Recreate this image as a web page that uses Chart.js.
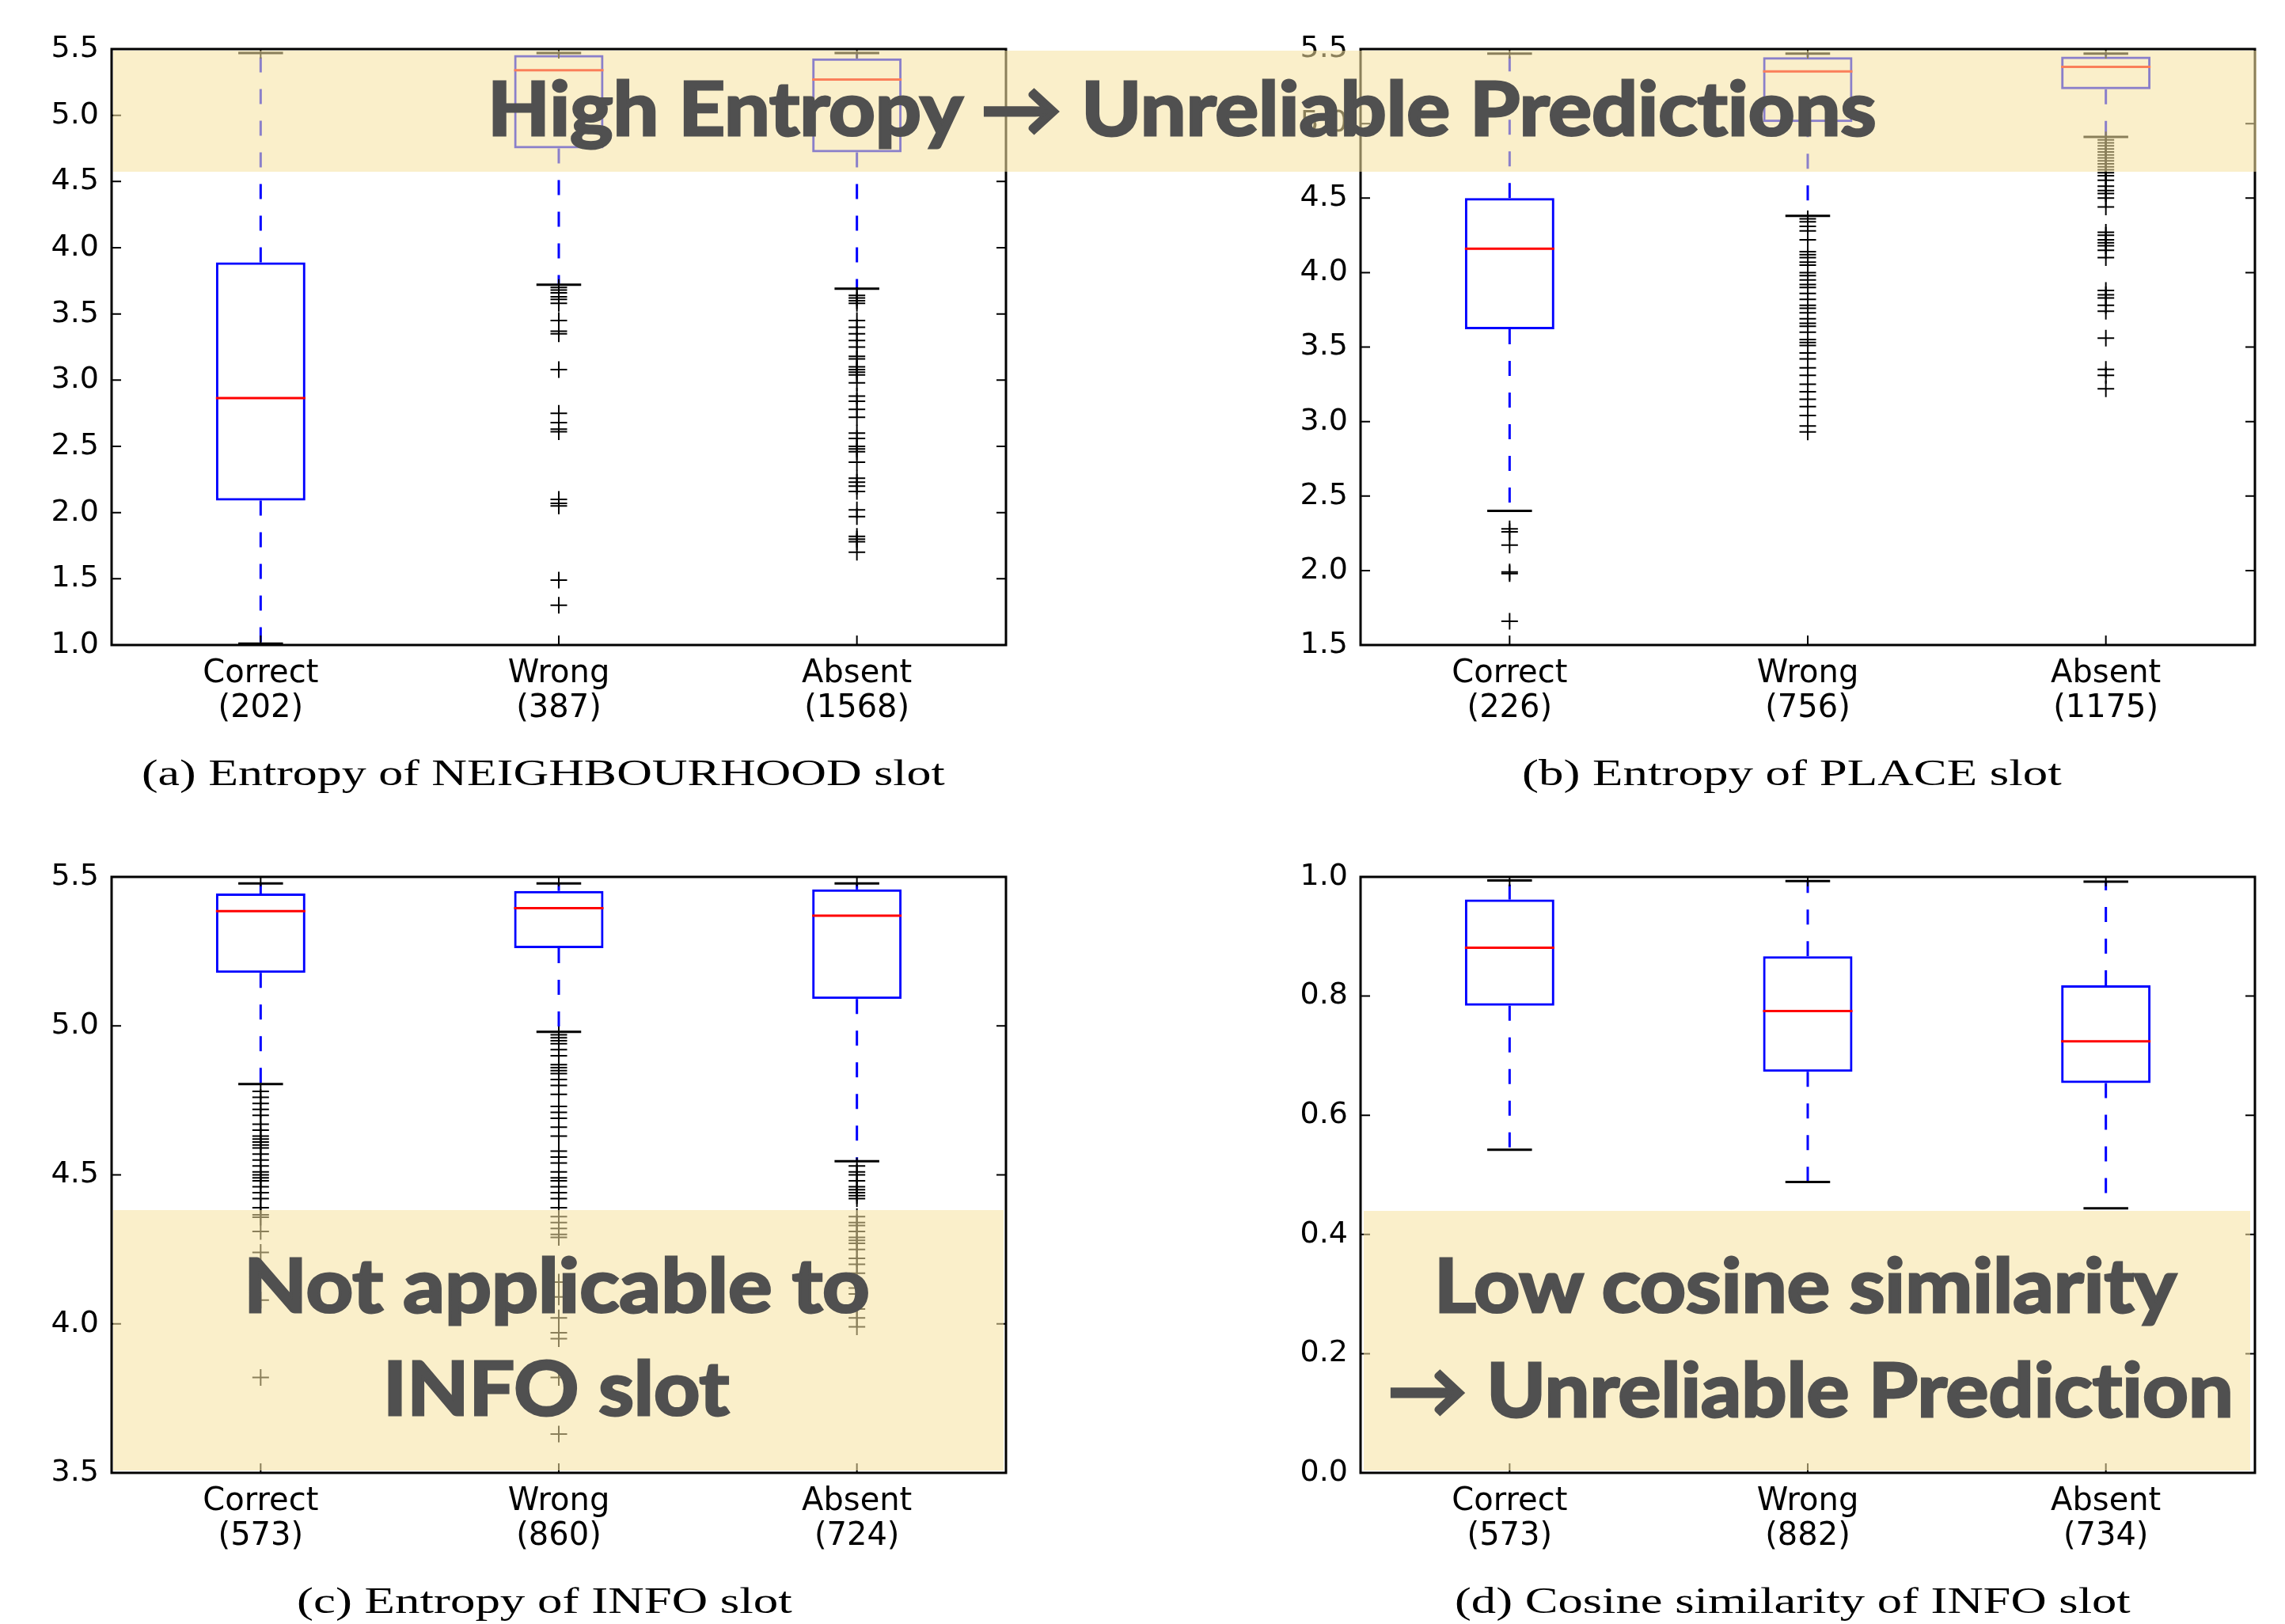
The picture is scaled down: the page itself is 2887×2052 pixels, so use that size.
<!DOCTYPE html>
<html>
<head>
<meta charset="utf-8">
<script src="https://cdn.jsdelivr.net/npm/chart.js@4.4.0/dist/chart.umd.min.js"></script>
<style>
body { margin: 0; background: #fff; width: 2887px; height: 2052px; position: relative; overflow: hidden; }
canvas { position: absolute; }
.band { position: absolute; background: rgba(246, 227, 160, 0.56); }
.txt { position: absolute; white-space: nowrap; }
</style>
</head>
<body>
<canvas id="chartA" width="1300" height="950" style="left:0px;top:0px"></canvas>
<canvas id="chartB" width="1300" height="950" style="left:1578px;top:0px"></canvas>
<canvas id="chartC" width="1300" height="950" style="left:0px;top:1046px"></canvas>
<canvas id="chartD" width="1300" height="950" style="left:1578px;top:1046px"></canvas>

<script>
// categories shared by all four panels
const categories = ['Correct', 'Wrong', 'Absent'];

// (a) Entropy of NEIGHBOURHOOD slot
const countsA = [202, 387, 1568];
const q1A = [2.09, 4.75, 4.72];
const medA = [2.865, 5.34, 5.27];
const q3A = [3.89, 5.455, 5.43];
const loA = [1.01, 3.72, 3.69];
const hiA = [5.47, 5.47, 5.47];
const outCorrectA = [];
const outWrongA = [3.70, 3.68, 3.66, 3.63, 3.61, 3.58, 3.45, 3.37, 3.35, 3.08, 2.75, 2.68, 2.63, 2.61, 2.10, 2.07, 2.05, 1.49, 1.30];
const outAbsentA = [3.64, 3.62, 3.60, 3.58, 3.45, 3.40, 3.35, 3.30, 3.25, 3.18, 3.16, 3.10, 3.08, 3.06, 3.04, 2.98, 2.88, 2.84, 2.78, 2.72, 2.60, 2.56, 2.50, 2.48, 2.46, 2.38, 2.26, 2.23, 2.20, 2.16, 2.02, 1.97, 1.82, 1.80, 1.78, 1.70];

// (b) Entropy of PLACE slot
const countsB = [226, 756, 1175];
const q1B = [3.62, 5.01, 5.23];
const medB = [4.16, 5.35, 5.38];
const q3B = [4.50, 5.445, 5.45];
const loB = [2.40, 4.38, 4.91];
const hiB = [5.47, 5.47, 5.47];
const outCorrectB = [2.28, 2.26, 2.17, 1.99, 1.98, 1.66];
const outWrongB = [4.36, 4.34, 4.31, 4.28, 4.22, 4.14, 4.12, 4.10, 4.07, 4.05, 4.00, 3.98, 3.95, 3.92, 3.90, 3.86, 3.82, 3.78, 3.76, 3.73, 3.69, 3.66, 3.64, 3.60, 3.55, 3.53, 3.51, 3.46, 3.42, 3.36, 3.31, 3.25, 3.20, 3.15, 3.10, 3.04, 2.97, 2.93];
const outAbsentB = [4.89, 4.87, 4.85, 4.83, 4.81, 4.79, 4.77, 4.75, 4.73, 4.71, 4.69, 4.67, 4.65, 4.62, 4.58, 4.55, 4.53, 4.50, 4.44, 4.27, 4.25, 4.22, 4.20, 4.18, 4.15, 4.10, 3.88, 3.85, 3.83, 3.78, 3.74, 3.56, 3.35, 3.31, 3.22];

// (c) Entropy of INFO slot
const countsC = [573, 860, 724];
const q1C = [5.178, 5.261, 5.09];
const medC = [5.385, 5.395, 5.37];
const q3C = [5.444, 5.453, 5.458];
const loC = [4.805, 4.98, 4.546];
const hiC = [5.478, 5.478, 5.478];
const outCorrectC = [4.78, 4.76, 4.74, 4.72, 4.70, 4.67, 4.65, 4.63, 4.62, 4.61, 4.60, 4.59, 4.57, 4.55, 4.53, 4.51, 4.50, 4.49, 4.48, 4.46, 4.44, 4.42, 4.39, 4.366, 4.358, 4.31, 4.24, 4.08, 3.82];
const outWrongC = [4.97, 4.96, 4.95, 4.94, 4.92, 4.90, 4.87, 4.86, 4.85, 4.84, 4.82, 4.80, 4.77, 4.73, 4.71, 4.69, 4.66, 4.63, 4.58, 4.56, 4.54, 4.51, 4.49, 4.48, 4.46, 4.44, 4.42, 4.39, 4.36, 4.34, 4.32, 4.30, 4.29, 4.14, 4.09, 4.02, 3.97, 3.95, 3.82, 3.63];
const outAbsentC = [4.53, 4.51, 4.50, 4.48, 4.46, 4.45, 4.44, 4.43, 4.42, 4.36, 4.34, 4.33, 4.31, 4.29, 4.28, 4.27, 4.25, 4.22, 4.20, 4.17, 4.12, 4.10, 4.05, 4.02, 3.99];

// (d) Cosine similarity of INFO slot
const countsD = [573, 882, 734];
const q1D = [0.784, 0.673, 0.654];
const medD = [0.881, 0.775, 0.724];
const q3D = [0.962, 0.867, 0.818];
const loD = [0.542, 0.488, 0.444];
const hiD = [0.994, 0.993, 0.992];
const outCorrectD = [];
const outWrongD = [];
const outAbsentD = [];

// y axis ranges / tick steps
const yRangeA = [1.0, 5.5, 0.5];
const yRangeB = [1.5, 5.5, 0.5];
const yRangeC = [3.5, 5.5, 0.5];
const yRangeD = [0.0, 1.0, 0.2];

// captions and highlighted notes
const captions = ['(a) Entropy of NEIGHBOURHOOD slot', '(b) Entropy of PLACE slot', '(c) Entropy of INFO slot', '(d) Cosine similarity of INFO slot'];
const noteTop = 'High Entropy \u2192 Unreliable Predictions';
const noteC = ['Not applicable to', 'INFO slot'];
const noteD = ['Low cosine similarity', '\u2192 Unreliable Prediction'];

const xTickFont = { family: 'DejaVu Sans', size: 40, lineHeight: 1.1 };
const yTickFont = { family: 'DejaVu Sans', size: 38 };

function makePanel(id, counts, q1, med, q3, lo, hi, outliers, yRange) {
    var points = [];
    outliers.forEach((list, i) => {
        list.forEach((v) => points.push({ x: categories[i], y: v }));
    });

    // whiskers, caps, medians, frame and inward ticks (matplotlib look)
    var boxPlugin = {
        id: 'boxPlugin' + id,
        beforeDatasetsDraw(chart) {
            var ctx = chart.ctx, xs = chart.scales.x, ys = chart.scales.y;
            var meta = chart.getDatasetMeta(0);
            ctx.save();
            for (var i = 0; i < categories.length; i++) {
                var px = xs.getPixelForValue(i);
                var half = meta.data[i].width / 4;
                ctx.strokeStyle = '#0000ff';
                ctx.lineWidth = 3;
                ctx.setLineDash([19, 21]);
                ctx.beginPath();
                ctx.moveTo(px, ys.getPixelForValue(q1[i]));
                ctx.lineTo(px, ys.getPixelForValue(lo[i]));
                ctx.stroke();
                ctx.beginPath();
                ctx.moveTo(px, ys.getPixelForValue(q3[i]));
                ctx.lineTo(px, ys.getPixelForValue(hi[i]));
                ctx.stroke();
                ctx.setLineDash([]);
                ctx.strokeStyle = '#000';
                ctx.beginPath();
                ctx.moveTo(px - half, ys.getPixelForValue(lo[i]));
                ctx.lineTo(px + half, ys.getPixelForValue(lo[i]));
                ctx.moveTo(px - half, ys.getPixelForValue(hi[i]));
                ctx.lineTo(px + half, ys.getPixelForValue(hi[i]));
                ctx.stroke();
            }
            ctx.restore();
        },
        afterDatasetsDraw(chart) {
            var ctx = chart.ctx, xs = chart.scales.x, ys = chart.scales.y;
            var meta = chart.getDatasetMeta(0);
            var a = chart.chartArea;
            ctx.save();
            ctx.strokeStyle = '#ff0000';
            ctx.lineWidth = 3;
            for (var i = 0; i < categories.length; i++) {
                var px = xs.getPixelForValue(i);
                var w = meta.data[i].width / 2;
                var py = ys.getPixelForValue(med[i]);
                ctx.beginPath();
                ctx.moveTo(px - w, py);
                ctx.lineTo(px + w, py);
                ctx.stroke();
            }
            ctx.strokeStyle = '#000';
            ctx.lineWidth = 2;
            ys.ticks.forEach((t) => {
                var py = ys.getPixelForValue(t.value);
                ctx.beginPath();
                ctx.moveTo(a.left, py); ctx.lineTo(a.left + 12, py);
                ctx.moveTo(a.right, py); ctx.lineTo(a.right - 12, py);
                ctx.stroke();
            });
            for (var j = 0; j < categories.length; j++) {
                var tx = xs.getPixelForValue(j);
                ctx.beginPath();
                ctx.moveTo(tx, a.bottom); ctx.lineTo(tx, a.bottom - 12);
                ctx.moveTo(tx, a.top); ctx.lineTo(tx, a.top + 12);
                ctx.stroke();
            }
            ctx.lineWidth = 3;
            ctx.strokeRect(a.left, a.top, a.right - a.left, a.bottom - a.top);
            ctx.restore();
        }
    };

    var ctx = document.getElementById(id).getContext('2d');
    return new Chart(ctx, {
        type: 'bar',
        data: {
            labels: categories,
            datasets: [{
                type: 'bar',
                data: q1.map((v, i) => [v, q3[i]]),
                backgroundColor: 'rgba(0,0,0,0)',
                borderColor: '#0000ff',
                borderWidth: 3,
                borderSkipped: false,
                barPercentage: 0.3,
                categoryPercentage: 1.0
            }, {
                type: 'line',
                data: points,
                showLine: false,
                pointStyle: 'cross',
                pointRadius: 10.5,
                pointBorderWidth: 2,
                pointBorderColor: '#000',
                pointBackgroundColor: '#000'
            }]
        },
        options: {
            responsive: false,
            animation: false,
            events: [],
            layout: { padding: { top: 62, right: 29, left: 0, bottom: 0 } },
            plugins: { legend: { display: false }, tooltip: { enabled: false } },
            scales: {
                x: {
                    grid: { display: false, drawTicks: false },
                    border: { display: false },
                    ticks: {
                        autoSkip: false,
                        maxRotation: 0,
                        padding: 15,
                        color: '#000',
                        font: xTickFont,
                        callback: (v, i) => [categories[i], '(' + counts[i] + ')']
                    },
                    afterFit: (s) => { s.height = 135; }
                },
                y: {
                    min: yRange[0],
                    max: yRange[1],
                    grid: { display: false, drawTicks: false },
                    border: { display: false },
                    ticks: {
                        stepSize: yRange[2],
                        padding: 16,
                        color: '#000',
                        font: yTickFont,
                        callback: (v) => v.toFixed(1)
                    },
                    afterFit: (s) => { s.width = 141; }
                }
            }
        },
        plugins: [boxPlugin]
    });
}

makePanel('chartA', countsA, q1A, medA, q3A, loA, hiA, [outCorrectA, outWrongA, outAbsentA], yRangeA);
makePanel('chartB', countsB, q1B, medB, q3B, loB, hiB, [outCorrectB, outWrongB, outAbsentB], yRangeB);
makePanel('chartC', countsC, q1C, medC, q3C, loC, hiC, [outCorrectC, outWrongC, outAbsentC], yRangeC);
makePanel('chartD', countsD, q1D, medD, q3D, loD, hiD, [outCorrectD, outWrongD, outAbsentD], yRangeD);

// highlight bands
function addBand(left, top, width, height) {
    var el = document.createElement('div');
    el.className = 'band';
    el.style.left = left + 'px';
    el.style.top = top + 'px';
    el.style.width = width + 'px';
    el.style.height = height + 'px';
    document.body.appendChild(el);
}

// text placed by ink centre + baseline, stretched to the measured ink width
function placeText(str, cx, baseline, family, weight, size, inkWidth, color, stroke) {
    var c = document.createElement('canvas').getContext('2d');
    c.font = weight + ' ' + size + 'px ' + family;
    var m = c.measureText(str);
    var ink = m.actualBoundingBoxLeft + m.actualBoundingBoxRight + stroke;
    var sx = inkWidth / ink;
    var inkCenter = (m.actualBoundingBoxRight - m.actualBoundingBoxLeft) / 2;
    var asc = m.fontBoundingBoxAscent, desc = m.fontBoundingBoxDescent;
    var el = document.createElement('div');
    el.className = 'txt';
    el.textContent = str;
    el.style.font = weight + ' ' + size + 'px ' + family;
    el.style.fontVariantLigatures = 'none';
    el.style.fontFeatureSettings = '"liga" 0, "clig" 0, "dlig" 0, "calt" 0';
    el.style.lineHeight = size + 'px';
    el.style.color = color;
    if (stroke > 0) {
        el.style.webkitTextStroke = stroke + 'px ' + color;
    }
    el.style.top = (baseline - (size - asc - desc) / 2 - asc) + 'px';
    el.style.left = (cx - inkCenter * sx) + 'px';
    el.style.transformOrigin = '0 0';
    el.style.transform = 'scaleX(' + sx + ')';
    document.body.appendChild(el);
}

addBand(143, 64, 2708, 153);
addBand(143, 1529, 1125, 329);
addBand(1723, 1530, 1120, 328);

var noteFont = 'Lato, "Open Sans", sans-serif';
var noteColor = '#505050';
placeText(noteTop, 1498, 171, noteFont, 700, 94, 1752, noteColor, 3);
placeText(noteC[0], 706, 1658, noteFont, 700, 94, 783, noteColor, 3);
placeText(noteC[1], 706, 1788, noteFont, 700, 94, 433, noteColor, 3);
placeText(noteD[0], 2286, 1658, noteFont, 700, 94, 936, noteColor, 3);
placeText(noteD[1], 2288, 1790, noteFont, 700, 94, 1063, noteColor, 3);

var capFont = '"Liberation Serif", "DejaVu Serif", serif';
placeText(captions[0], 688, 992, capFont, 400, 47, 1012, '#000', 0);
placeText(captions[1], 2265, 992, capFont, 400, 47, 679, '#000', 0);
placeText(captions[2], 689, 2038, capFont, 400, 47, 623, '#000', 0);
placeText(captions[3], 2266, 2038, capFont, 400, 47, 851, '#000', 0);
</script>
</body>
</html>
